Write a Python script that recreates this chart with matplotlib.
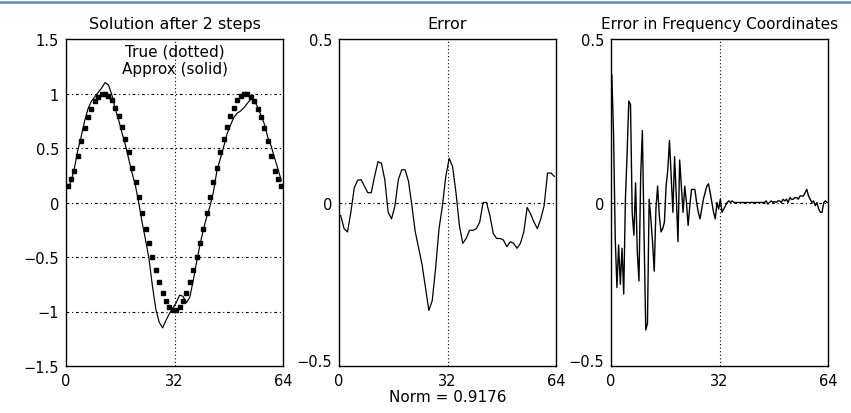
import numpy as np
import matplotlib
matplotlib.use("Agg")
import matplotlib.pyplot as plt
import matplotlib.transforms as mtransforms

plt.rcParams['font.family'] = ['DejaVu Sans']

# sample positions for the solution / error curves
x_sol = np.arange(64) + 0.5

true_vals = [0.15, 0.22, 0.29, 0.43, 0.56, 0.68, 0.78, 0.86, 0.93, 0.97,
             1.00, 1.00, 0.98, 0.94, 0.87, 0.79, 0.69, 0.58, 0.46, 0.32,
             0.19, 0.05, -0.10, -0.24, -0.37, -0.50, -0.62, -0.73, -0.83, -0.90,
             -0.96, -0.99, -0.99, -0.96, -0.90, -0.83, -0.73, -0.62, -0.50, -0.37,
             -0.24, -0.10, 0.05, 0.19, 0.32, 0.46, 0.58, 0.69, 0.79, 0.87,
             0.94, 0.98, 1.00, 1.00, 0.97, 0.93, 0.86, 0.78, 0.68, 0.56,
             0.43, 0.29, 0.22, 0.15]

approx_vals = [0.14, 0.19, 0.32, 0.48, 0.61, 0.75, 0.86, 0.93, 0.97, 1.01,
               1.05, 1.10, 1.08, 0.99, 0.86, 0.76, 0.64, 0.53, 0.40, 0.27,
               0.15, -0.01, -0.19, -0.35, -0.52, -0.77, -0.98, -1.10, -1.15, -1.08,
               -1.02, -0.97, -0.92, -0.85, -0.86, -0.92, -0.87, -0.72, -0.55, -0.39,
               -0.25, -0.13, -0.03, 0.10, 0.29, 0.40, 0.51, 0.63, 0.71, 0.78,
               0.82, 0.84, 0.87, 0.91, 0.95, 0.93, 0.88, 0.80, 0.72, 0.60,
               0.52, 0.41, 0.31, 0.20]

error_vals = [-0.04, -0.08, -0.09, -0.03, 0.045, 0.068, 0.07, 0.05, 0.03, 0.03,
              0.08, 0.125, 0.12, 0.07, -0.03, -0.05, -0.01, 0.07, 0.10, 0.10,
              0.065, -0.01, -0.09, -0.14, -0.19, -0.26, -0.33, -0.30, -0.20, -0.08,
              -0.01, 0.08, 0.135, 0.11, 0.03, -0.07, -0.125, -0.11, -0.085, -0.085,
              -0.08, -0.06, 0.0, 0.0, -0.04, -0.095, -0.11, -0.11, -0.115, -0.135,
              -0.12, -0.125, -0.14, -0.125, -0.09, -0.015, -0.035, -0.06, -0.08, -0.05,
              -0.01, 0.09, 0.09, 0.08]

# frequency-coordinate error, sampled every half unit
x_freq = np.arange(128) * 0.5 + 0.25
freq_vals = [0.39, 0.21, -0.11, -0.26, -0.13, -0.25, -0.14, -0.28, 0.01, 0.15,
             0.31, 0.30, -0.03, -0.10, 0.06, -0.15, -0.24, 0.08, 0.22, -0.10,
             -0.39, -0.37, 0.01, -0.05, -0.12, -0.21, -0.02, 0.05, -0.04, -0.09,
             -0.08, -0.06, 0.05, 0.10, 0.19, 0.08, -0.03, 0.14, 0.02, -0.12,
             0.13, 0.05, -0.03, 0.05, 0.0, -0.07, -0.01, 0.04, 0.04, 0.04,
             0.0, -0.03, -0.05, -0.02, 0.01, 0.03, 0.05, 0.057, 0.03, 0.0,
             -0.03, -0.05, 0.0, -0.02, 0.01, -0.03, -0.02, -0.01, 0.0, 0.005,
             0.0, 0.005, 0.0, 0.0, 0.0, 0.0, 0.0, 0.0, 0.0, 0.0,
             0.0, 0.0, 0.0, 0.0, 0.0, 0.0, 0.0, 0.0, 0.0, 0.0,
             0.0, 0.005, -0.005, 0.0, 0.005, 0.0, 0.003, 0.0, 0.005, 0.005,
             0.0, 0.01, 0.005, 0.01, 0.0, 0.015, 0.01, 0.01, 0.015, 0.015,
             0.01, 0.02, 0.02, 0.02, 0.03, 0.04, 0.02, 0.01, 0.0, 0.005,
             -0.01, 0.0, -0.02, -0.03, -0.03, 0.0, 0.005, 0.0]

x_ticks = [0, 32, 64]
sol_yticks = [-1.5, -1, -0.5, 0, 0.5, 1, 1.5]
sol_ylabels = ['\u22121.5', '\u22121', '\u22120.5', '0', '0.5', '1', '1.5']
err_yticks = [-0.5, 0, 0.5]
err_ylabels = ['\u22120.5', '0', '0.5']

fig = plt.figure(figsize=(8.51, 4.14), dpi=100)

# thin blue rule across the top of the picture
fig.add_artist(plt.Line2D([0, 1], [0.992, 0.992], color='#5b8bd0',
                          linewidth=1.8, transform=fig.transFigure))

w = 217 / 851
h = 327 / 414
bottom = 1 - 367 / 414
lefts = [66 / 851, 339 / 851, 611 / 851]
axes = [fig.add_axes([l, bottom, w, h]) for l in lefts]


def style_axis(ax, yticks, ylabels, ylim):
    ax.set_xlim(0, 64)
    ax.set_ylim(*ylim)
    ax.set_xticks(x_ticks)
    ax.set_xticklabels([str(t) for t in x_ticks])
    ax.set_yticks(yticks)
    ax.set_yticklabels(ylabels)
    ax.tick_params(direction='in', length=0, labelsize=10.5, pad=5)
    for s in ax.spines.values():
        s.set_linewidth(1.0)
    # grid lines at inner ticks
    for yt in yticks[1:-1]:
        ax.axhline(yt, color='black', linewidth=0.8,
                   linestyle=(0, (2.5, 2.5, 1, 2.5)), zorder=1)
    ax.axvline(32, color='black', linewidth=0.8, linestyle=(0, (1, 2.2)), zorder=1)


ax1, ax2, ax3 = axes

style_axis(ax1, sol_yticks, sol_ylabels, (-1.5, 1.5))
ax1.plot(x_sol, true_vals, 's', color='black', markersize=2.7, zorder=3)
ax1.plot(x_sol, approx_vals, '-', color='black', linewidth=0.85, zorder=3)
ax1.set_title('Solution after 2 steps', fontsize=11.5, pad=8)
ax1.text(32, 1.39, 'True (dotted)', ha='center', va='center', fontsize=11)
ax1.text(32, 1.23, 'Approx (solid)', ha='center', va='center', fontsize=11)

style_axis(ax2, err_yticks, err_ylabels, (-0.5, 0.5))
ax2.plot(x_sol, error_vals, '-', color='black', linewidth=0.9, zorder=3)
ax2.set_title('Error', fontsize=11.5, pad=8)
ax2.set_xlabel('Norm = 0.9176', fontsize=11, labelpad=1)

style_axis(ax3, err_yticks, err_ylabels, (-0.5, 0.5))
ax3.plot(x_freq, freq_vals, '-', color='black', linewidth=1.0, zorder=3)
ax3.set_title('Error in Frequency Coordinates', fontsize=11, pad=8)

# the lowest label on the two error panels sits a little raised
for ax in (ax2, ax3):
    lab = ax.get_yticklabels()[0]
    lab.set_transform(lab.get_transform() +
                      mtransforms.ScaledTranslation(0, 6 / 100, fig.dpi_scale_trans))

fig.savefig('out.png', dpi=100, facecolor='white')
